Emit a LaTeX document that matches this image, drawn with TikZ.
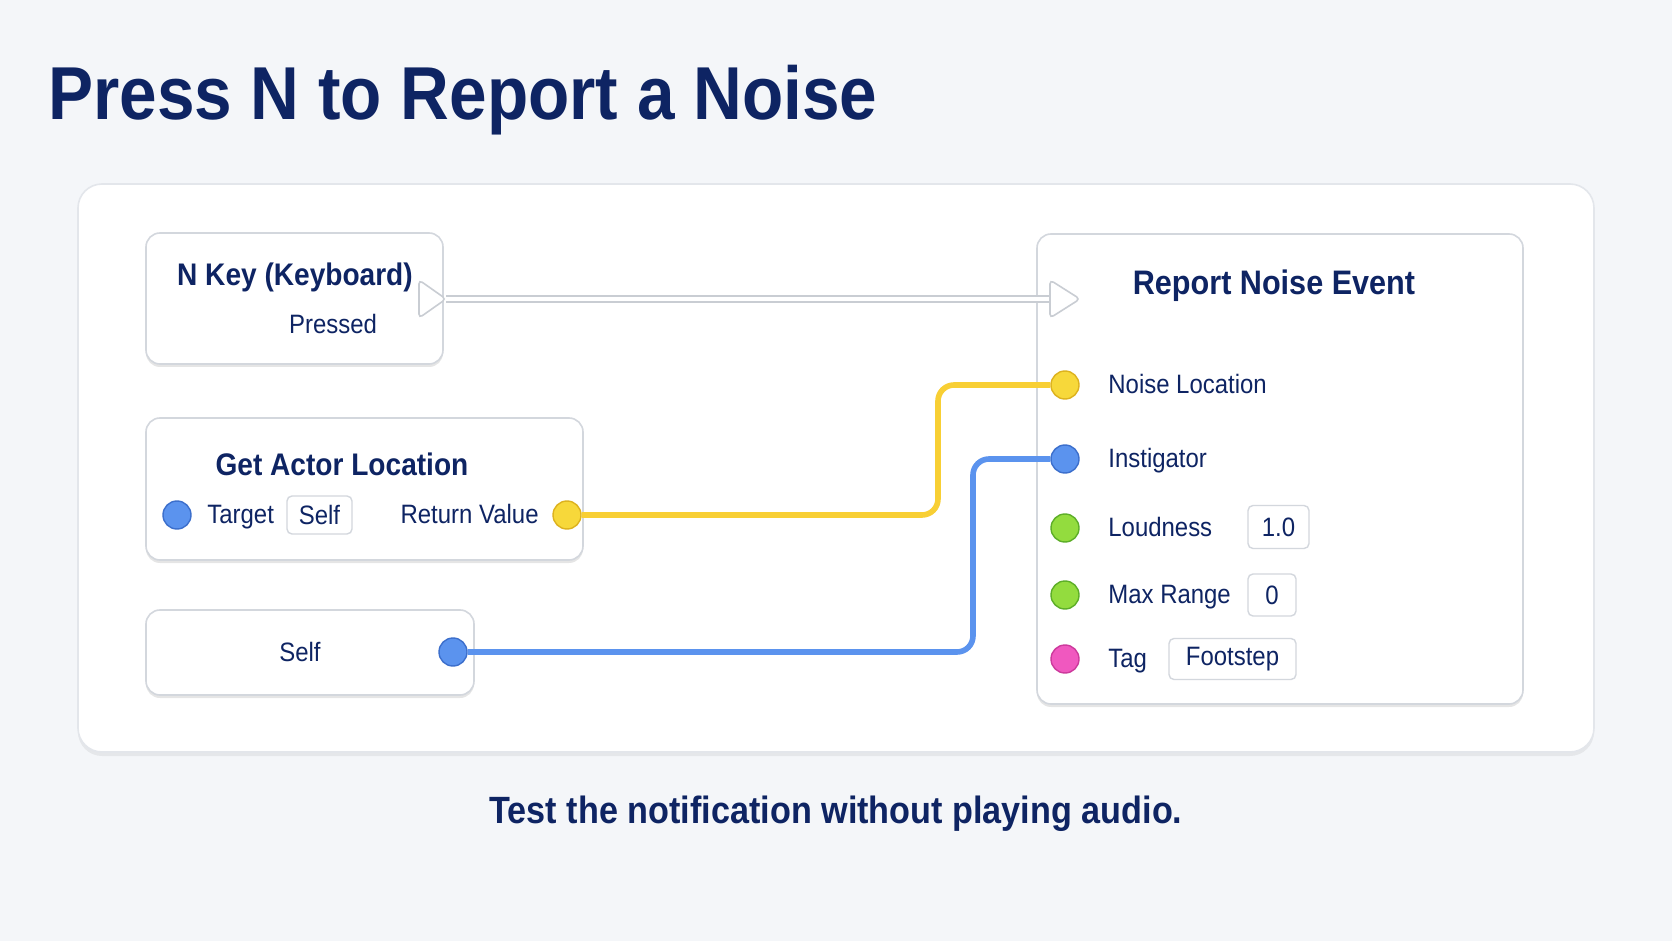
\documentclass[tikz,border=0pt]{standalone}
\usepackage{fontspec}
\setmainfont{Liberation Sans}[FakeStretch=0.9]
\usetikzlibrary{calc}
\usetikzlibrary{positioning}
\usetikzlibrary{shadows}

\definecolor{navy}{HTML}{0E2463}
\definecolor{bgcol}{HTML}{F4F6F9}
\definecolor{panelline}{HTML}{E3E6EB}
\definecolor{boxline}{HTML}{D3D7DD}
\definecolor{execline}{HTML}{C9CDD3}
\definecolor{ylwfill}{HTML}{F7D83A}
\definecolor{ylwline}{HTML}{DDB21E}
\definecolor{blufill}{HTML}{5B93EE}
\definecolor{bluline}{HTML}{3C6FCC}
\definecolor{grnfill}{HTML}{93DC3E}
\definecolor{grnline}{HTML}{5DAE28}
\definecolor{pnkfill}{HTML}{F058BF}
\definecolor{pnkline}{HTML}{CC3A9C}

\newcommand\bigtitle{\fontsize{37.5}{44}\selectfont\bfseries}
\newcommand\headsize{\fontsize{17}{20}\selectfont\bfseries}
\newcommand\headsmall{\fontsize{15.6}{19}\selectfont\bfseries}
\newcommand\labelsize{\fontsize{13.3}{16}\selectfont}
\newcommand\capsize{\fontsize{19}{23}\selectfont\bfseries}

\tikzset{
  panel/.style={draw=panelline, fill=white, line width=0.8pt, rounded corners=12pt,
    drop shadow={shadow xshift=0pt, shadow yshift=-2pt, opacity=0.06, fill=black}},
  nodebox/.style={draw=boxline, fill=white, line width=0.8pt, rounded corners=7pt,
    drop shadow={shadow xshift=0pt, shadow yshift=-1.5pt, opacity=0.10, fill=black}},
  valbox/.style={draw=boxline, fill=white, line width=0.7pt, rounded corners=2.5pt,
    inner sep=0pt, text=navy, font=\labelsize},
  pinnode/.style={circle, minimum size=14pt, inner sep=0pt, line width=0.7pt},
  pinyellow/.style={fill=ylwfill, draw=ylwline},
  pinblue/.style={fill=blufill, draw=bluline},
  pingreen/.style={fill=grnfill, draw=grnline},
  pinpink/.style={fill=pnkfill, draw=pnkline},
  headtext/.style={text=navy, font=\headsize, anchor=mid, inner sep=0pt},
  labeltext/.style={text=navy, font=\labelsize, anchor=mid, inner sep=0pt},
  execpin/.style={draw=execline, fill=white, line width=0.8pt, rounded corners=2pt},
  wire/.style={line width=2.8pt, rounded corners=8pt},
}

\begin{document}
\begin{tikzpicture}[x=0.5pt,y=-0.5pt]

  \fill [bgcol] (0,0) rectangle (1672,941);
  \useasboundingbox (0,0) rectangle (1672,941);

  \node [text=navy, font=\bigtitle, anchor=base west, inner sep=0pt] (title) at (48,120) {Press N to Report a Noise};

  \node [panel, minimum width=758pt, minimum height=284pt] (panel) at (836,468) {};

  % input event
  \node [nodebox, minimum width=148.5pt, minimum height=65.5pt] (nkey) at (294.5,298.5) {};
  \node [headtext, font=\headsmall] (nkeyname) at (295,280) {N Key (Keyboard)};
  \node [labeltext] (nkeypressed) at (333,328) {Pressed};

  % get actor location
  \node [nodebox, minimum width=218.5pt, minimum height=71pt] (gal) at (364.5,489) {};
  \node [headtext, font=\headsmall] (galname) at (342,470) {Get Actor Location};
  \node [pinnode, pinblue] (galtarget) at (177,515) {};
  \node [labeltext, anchor=mid west] (galtargetlbl) at (207,518) {Target};
  \node [valbox, minimum width=32.5pt, minimum height=19pt] (galself) at (319.5,515) {Self};
  \node [labeltext, anchor=mid east] (galretlbl) at (539,518) {Return Value};
  \node [pinnode, pinyellow] (galret) at (567,515) {};

  % self reference
  \node [nodebox, minimum width=164pt, minimum height=42.5pt] (self) at (310,652.5) {};
  \node [labeltext] (selflbl) at (300,656) {Self};
  \node [pinnode, pinblue] (selfout) at (453,652) {};

  % report noise event
  \node [nodebox, minimum width=243pt, minimum height=235pt] (rne) at (1280,469) {};
  \node [headtext] (rnename) at (1274,289) {Report Noise Event};
  \foreach \y/\name/\col/\txt in {385/rneloc/pinyellow/Noise Location,
                                  459/rneinst/pinblue/Instigator,
                                  528/rneloud/pingreen/Loudness,
                                  595/rnerange/pingreen/Max Range,
                                  659/rnetag/pinpink/Tag} {
    \node [pinnode, \col] (\name) at (1065,\y) {};
    \node [labeltext, anchor=mid west] (\name lbl) at (1108,\y+3) {\txt};
  }
  \node [valbox, minimum width=30.5pt, minimum height=21.5pt] (rneloudval) at (1278.5,527) {1.0};
  \node [valbox, minimum width=24pt, minimum height=21pt] (rnerangeval) at (1272,595) {0};
  \node [valbox, minimum width=63.5pt, minimum height=20.5pt] (rnetagval) at (1232.5,659) {Footstep};

  % exec flow
  \coordinate (nkeyexec) at (432,299);
  \coordinate (rneexec) at (1064,299);
  \coordinate (nkeytip) at (446,299);
  \coordinate (rnebase) at (1051,299);
  \draw [execline, line width=3.6pt] (nkeytip) -- (rnebase);
  \draw [white, line width=2pt] (nkeytip) -- (rnebase);
  \draw [execpin] (nkeyexec) ++(-13,-19) -- ++(27,19) -- ++(-27,19) -- cycle;
  \draw [execpin] (rneexec) ++(-14,-19) -- ++(30,19) -- ++(-30,19) -- cycle;

  % data wires
  \coordinate (ylwbend) at (938,450);
  \coordinate (blubend) at (973,550);
  \draw [wire, ylwfill!90!orange] (galret.east) -| (ylwbend) |- (rneloc.west);
  \draw [wire, blufill] (selfout.east) -| (blubend) |- (rneinst.west);

  \node [text=navy, font=\capsize, anchor=mid, inner sep=0pt] (caption) at (836,818) {Test the notification without playing audio.};

\end{tikzpicture}
\end{document}
